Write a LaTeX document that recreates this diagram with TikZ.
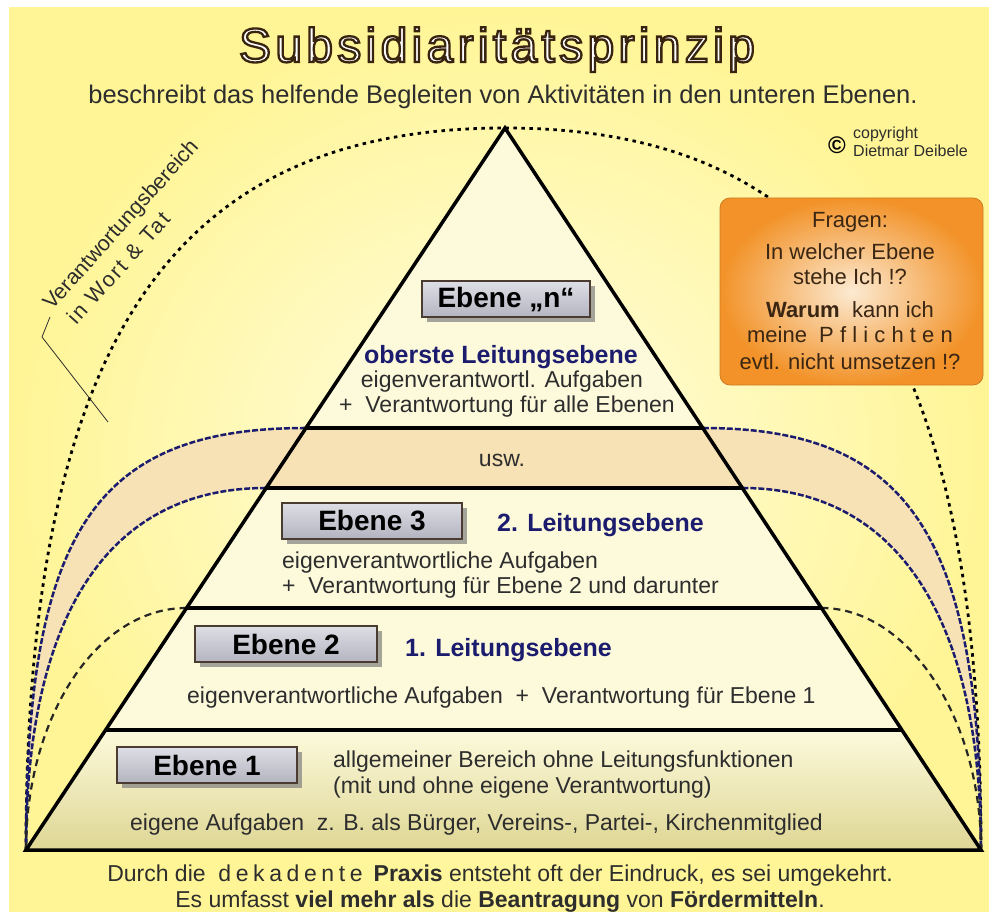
\documentclass[tikz,border=0pt]{standalone}
\usepackage{fontspec}
\setmainfont{Liberation Sans}
\usetikzlibrary{calc,shadows}
\definecolor{gelb}{RGB}{255,245,150}
\definecolor{hellgelb}{RGB}{255,253,226}
\definecolor{creme}{RGB}{253,250,220}
\definecolor{pfirsich}{RGB}{247,226,182}
\definecolor{khaki}{RGB}{222,214,148}
\definecolor{nachtblau}{RGB}{28,28,110}
\definecolor{schrift}{RGB}{45,45,45}
\definecolor{orangerot}{RGB}{242,146,40}
\definecolor{orangehell}{RGB}{252,234,210}
\definecolor{braun}{RGB}{58,38,18}
\definecolor{boxgrauo}{RGB}{222,222,230}
\definecolor{boxgrauu}{RGB}{180,180,192}
\definecolor{rahmen}{RGB}{75,60,50}
\newcommand{\umriss}[2]{\special{pdf:literal direct 2 Tr 2.3 w #1 RG}#2\special{pdf:literal direct 0 Tr}}
\tikzstyle{titel} = [anchor=base, inner sep=0pt, font=\fontsize{48}{48}\selectfont\addfontfeature{LetterSpace=9}]
\tikzstyle{ebene} = [draw=rahmen, line width=2pt, top color=boxgrauo, bottom color=boxgrauu, minimum height=36pt, font=\bfseries\fontsize{28}{28}\selectfont, drop shadow={shadow xshift=5pt, shadow yshift=-5pt, fill=black!50, opacity=0.7}]
\tikzstyle{zeile} = [anchor=base west, inner sep=0pt, text=schrift, font=\fontsize{23}{25}\selectfont]
\tikzstyle{leitung} = [zeile, text=nachtblau, font=\bfseries\fontsize{25}{25}\selectfont]
\tikzstyle{frage} = [anchor=base, inner sep=0pt, text=braun, font=\fontsize{22}{24}\selectfont]
\tikzstyle{schraeg} = [rotate=48, anchor=north west, align=left, inner sep=0pt, text=schrift, font=\fontsize{21.5}{28}\selectfont]
\tikzstyle{kante} = [line width=3.5pt]
\tikzstyle{bogen} = [draw=nachtblau, line width=2.5pt, dash pattern=on 6pt off 2pt]
\tikzstyle{bogenlang} = [draw=black!85, line width=2.2pt, dash pattern=on 7pt off 5pt]
\tikzstyle{kuppel} = [draw=black, line width=2.8pt, dash pattern=on 3.5pt off 4.5pt]

\begin{document}
\begin{tikzpicture}[x=1pt,y=-1pt]
  \useasboundingbox (0,0) rectangle (989,912);
  \fill[white] (0,0) rectangle (989,912);
  \shade[inner color=hellgelb, outer color=gelb] (9,8) rectangle (989,912);

  \coordinate (A) at (505,128);
  \coordinate (BL) at (26,850);
  \coordinate (BR) at (981,850);
  \foreach \t [count=\i] in {0.4155,0.4986,0.6648,0.8338} {
    \coordinate (l\i) at ($(A)!\t!(BL)$);
    \coordinate (r\i) at ($(A)!\t!(BR)$);
  }

  \draw[kuppel] (BL) .. controls +(0,-505) and +(-335,0) .. (A) .. controls +(333,0) and +(0,-505) .. (BR);

  \fill[pfirsich] (l1) .. controls +(-213,0) and +(0,-316) .. (BL) .. controls +(0,-235) and +(-158,0) .. (l2) -- cycle;
  \fill[pfirsich] (r1) .. controls +(205,0) and +(0,-316) .. (BR) .. controls +(0,-235) and +(153,0) .. (r2) -- cycle;

  \fill[creme] (A) -- (BL) -- (BR) -- cycle;
  \fill[pfirsich] (l1) -- (r1) -- (r2) -- (l2) -- cycle;
  \shade[top color=creme, bottom color=khaki] (l4) -- (r4) -- (BR) -- (BL) -- cycle;

  \draw[bogen] (l1) .. controls +(-213,0) and +(0,-316) .. (BL);
  \draw[bogen] (l2) .. controls +(-158,0) and +(0,-235) .. (BL);
  \draw[bogenlang] (l3) .. controls +(-90,0) and +(0,-133) .. (BL);
  \draw[bogen] (r1) .. controls +(205,0) and +(0,-316) .. (BR);
  \draw[bogen] (r2) .. controls +(153,0) and +(0,-235) .. (BR);
  \draw[bogenlang] (r3) .. controls +(86,0) and +(0,-133) .. (BR);

  \draw[kante] (l1) -- (r1) (l2) -- (r2) (l3) -- (r3) (l4) -- (r4);
  \draw[kante, line join=miter] (A) -- (BL) -- (BR) -- cycle;

  \node[titel, text=white] (titel) at (497,62) {\umriss{0.22 0.14 0.06}{Subsidiaritätsprinzip}};
  \node[anchor=base, inner sep=0pt, text=schrift, font=\fontsize{25.5}{26}\selectfont] (unter) at (503,104) {beschreibt das helfende Begleiten von Aktivitäten in den unteren Ebenen.};

  \node[inner sep=0pt, font=\bfseries\fontsize{24}{24}\selectfont] (copyzeichen) at (837,145) {©};
  \node[anchor=base west, inner sep=0pt, text=schrift, font=\fontsize{16}{16}\selectfont] (copy1) at (853,139) {copyright};
  \node[anchor=base west, inner sep=0pt, text=schrift, font=\fontsize{16}{16}\selectfont] (copy2) at (853,157) {Dietmar Deibele};

  \coordinate (k1) at (50,317);
  \coordinate (k2) at (42,337);
  \coordinate (k3) at (108,422);
  \draw[schrift, line width=0.8pt] (k1) -- (k2) -- (k3);
  \node[schraeg] (verant) at (40.3,300.5) {Verantwortungsbereich\\\hspace*{5pt}{\addfontfeature{LetterSpace=10}in Wort \& Tat}};

  \node[ebene, minimum width=168pt] (en) at (506,299.5) {Ebene „n“};
  \node[leitung, anchor=base] (n1) at (501,363) {oberste Leitungsebene};
  \node[zeile, anchor=base] (n2) at (502,388) {eigenverantwortl. Aufgaben};
  \node[zeile, anchor=base] (n3) at (507,413) {+\ \ Verantwortung für alle Ebenen};

  \node[zeile, anchor=base] (usw) at (502,466) {usw.};

  \node[ebene, minimum width=180pt] (e3) at (372,520.5) {Ebene 3};
  \node[leitung] (le2) at (497,531) {2. Leitungsebene};
  \node[zeile] (e3a) at (282,568) {eigenverantwortliche Aufgaben};
  \node[zeile] (e3b) at (282,593) {+\ \ Verantwortung für Ebene 2 und darunter};

  \node[ebene, minimum width=182pt] (e2) at (286,644) {Ebene 2};
  \node[leitung] (le1) at (405,656) {1. Leitungsebene};
  \node[zeile] (e2a) at (187,703) {eigenverantwortliche Aufgaben\ \ +\ \ Verantwortung für Ebene 1};

  \node[ebene, minimum width=180pt] (e1) at (207,765) {Ebene 1};
  \node[zeile] (e1a) at (333,767) {allgemeiner Bereich ohne Leitungsfunktionen};
  \node[zeile] (e1b) at (333,793) {(mit und ohne eigene Verantwortung)};
  \node[zeile] (e1c) at (130,830) {eigene Aufgaben\ \ z. B. als Bürger, Vereins-, Partei-, Kirchenmitglied};

  \node[zeile, anchor=base] (fuss1) at (500,881) {Durch die\ \ {\addfontfeature{LetterSpace=20}dekadente}\ \textbf{Praxis} entsteht oft der Eindruck, es sei umgekehrt.};
  \node[zeile, anchor=base] (fuss2) at (500,907) {Es umfasst \textbf{viel mehr als} die \textbf{Beantragung} von \textbf{Fördermitteln}.};

  \node[draw=orangerot!85!black, line width=0.8pt, rounded corners=10pt, inner color=orangehell, outer color=orangerot, minimum width=263pt, minimum height=187pt] (fragen) at (851.5,291.5) {};
  \node[frage] (f1) at (850,228) {Fragen:};
  \node[frage] (f2) at (850,260) {In welcher Ebene};
  \node[frage] (f3) at (850,285) {stehe Ich !?};
  \node[frage] (f4) at (850,318) {\textbf{Warum}\ \ kann ich};
  \node[frage] (f5) at (850,343) {meine\ \ {\addfontfeature{LetterSpace=28}Pflichten}};
  \node[frage] (f6) at (850,370) {evtl. nicht umsetzen !?};
\end{tikzpicture}
\end{document}
